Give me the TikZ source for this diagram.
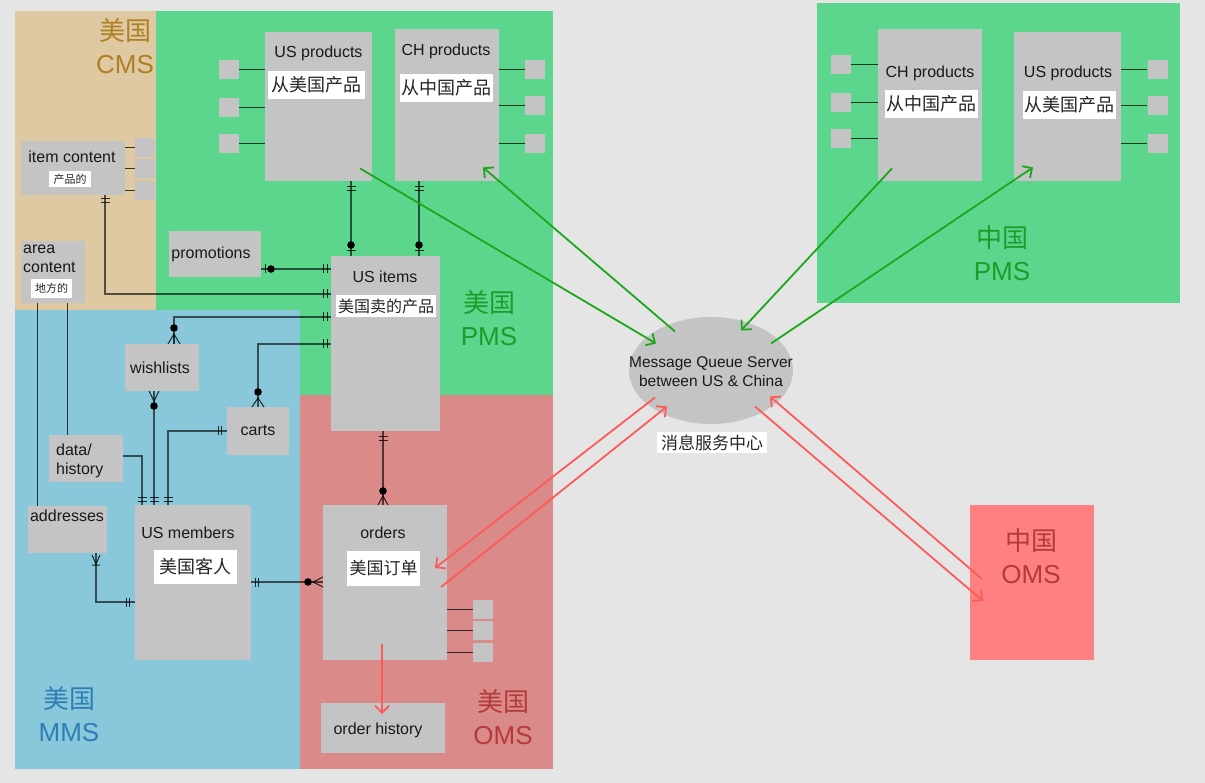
\documentclass[tikz,border=0pt]{standalone}
\usepackage{fontspec}
\setmainfont{Liberation Sans}
\newfontfamily\cjk{Noto Sans CJK SC}
\usetikzlibrary{arrows.meta,shapes.geometric}
\definecolor{bgc}{HTML}{E5E5E5}
\definecolor{cmsc}{HTML}{DEC9A3}
\definecolor{pmsc}{HTML}{5DD68D}
\definecolor{mmsc}{HTML}{89C8DA}
\definecolor{omsc}{HTML}{DB8A8A}
\definecolor{comsc}{HTML}{FF8080}
\definecolor{boxg}{HTML}{C4C4C4}
\definecolor{cmsl}{HTML}{B07F22}
\definecolor{pmsl}{HTML}{1E9C2A}
\definecolor{mmsl}{HTML}{2E7DB5}
\definecolor{omsl}{HTML}{B53A3A}
\definecolor{garc}{HTML}{1BA81B}
\definecolor{rarc}{HTML}{FF5A5A}
\newcommand\erTV[2]{\draw[erm] ({#1-4.5},#2) -- ({#1+4.5},#2);}
\newcommand\erTH[2]{\draw[erm] (#1,{#2-4.5}) -- (#1,{#2+4.5});}
\newcommand\erDot[2]{\fill[erd] (#1,#2) circle[radius=3.8pt];}
\begin{document}
\begin{tikzpicture}[x=1pt,y=-1pt,
  ent/.style={fill=boxg, draw=none, anchor=north west, inner sep=0pt},
  sq/.style={fill=boxg, draw=none, inner sep=0pt, minimum width=20pt, minimum height=19pt},
  etxt/.style={font=\fontsize{16}{19}\selectfont, inner sep=0pt, text=black!90},
  wl/.style={fill=white, inner sep=0pt, font=\cjk\fontsize{18}{20}\selectfont, text=black!85},
  regl/.style={font=\fontsize{26}{33}\selectfont, align=center, inner sep=0pt},
  erl/.style={draw=black, draw opacity=0.62, line width=1.5pt},
  erm/.style={draw=black, draw opacity=0.8, line width=1pt},
  erd/.style={fill=black},
  thinl/.style={draw=black, draw opacity=0.75, line width=1pt},
  garr/.style={draw=garc, line width=1.8pt, -{Straight Barb[length=7pt,width=14pt]}},
  rarr/.style={draw=rarc, line width=1.8pt, -{Straight Barb[length=7pt,width=14pt]}}]
\useasboundingbox (0,0) rectangle (1205,783);
\fill[bgc] (0,0) rectangle (1205,783);
% regions
\fill[cmsc] (15,11) rectangle (156,310);
\fill[pmsc] (156,11) rectangle (553,310);
\fill[pmsc] (300,310) rectangle (553,395);
\fill[mmsc] (15,310) rectangle (300,769);
\fill[omsc] (300,395) rectangle (553,769);
\fill[pmsc] (817,3) rectangle (1180,303);
% region labels
\node[regl, text=cmsl] (lcms) at (125,46) {{\cjk 美国}\\CMS};
\node[regl, text=pmsl] (lpms) at (489,318) {{\cjk 美国}\\PMS};
\node[regl, text=mmsl] (lmms) at (69,714) {{\cjk 美国}\\MMS};
\node[regl, text=omsl] (loms) at (503,717) {{\cjk 美国}\\OMS};
\node[regl, text=pmsl] (lcpms) at (1002,253) {{\cjk 中国}\\PMS};
% entity boxes
\node[ent, minimum width=107pt, minimum height=149pt] (usp) at (265,32) {};
\node[ent, minimum width=104pt, minimum height=152pt] (chp) at (395,29) {};
\node[ent, minimum width=104pt, minimum height=152pt] (cchp) at (878,29) {};
\node[ent, minimum width=107pt, minimum height=149pt] (cusp) at (1014,32) {};
\node[ent, minimum width=104pt, minimum height=54pt] (ic) at (21,141) {};
\node[ent, minimum width=64pt, minimum height=62pt] (ac) at (21,241) {};
\node[ent, minimum width=92pt, minimum height=46pt] (promo) at (169,231) {};
\node[ent, minimum width=109pt, minimum height=175pt] (usi) at (331,256) {};
\node[ent, minimum width=124pt, minimum height=155pt] (ord) at (323,505) {};
\node[ent, minimum width=116pt, minimum height=155pt] (mem) at (135,505) {};
\node[ent, minimum width=124pt, minimum height=50pt] (oh) at (321,703) {};
\node[ent, minimum width=74pt, minimum height=47pt] (wls) at (125,344) {};
\node[ent, minimum width=62pt, minimum height=48pt] (ct) at (227,407) {};
\node[ent, minimum width=74pt, minimum height=47pt] (dh) at (49,435) {};
\node[ent, minimum width=79pt, minimum height=47pt] (ad) at (28,506) {};
\node[ent, fill=comsc, minimum width=124pt, minimum height=155pt] (coms) at (970,505) {};
\node[regl, text=omsl] (lcoms) at (1031,556) {{\cjk 中国}\\OMS};
\node[fill=boxg, ellipse, inner sep=0pt, minimum width=164pt, minimum height=107pt] (mq) at (711,370.5) {};
% entity texts
\node[etxt] (usp-t) at (318.5,53) {US products};
\node[etxt] (chp-t) at (446,51) {CH products};
\node[etxt] (cchp-t) at (930,73) {CH products};
\node[etxt] (cusp-t) at (1068,73) {US products};
\node[etxt] (ic-t) at (72,157) {item content};
\node[etxt, align=left, anchor=west] (ac-t) at (23,259) {area\\content};
\node[etxt] (promo-t) at (211,254) {promotions};
\node[etxt] (usi-t) at (385,277) {US items};
\node[etxt] (ord-t) at (383,533) {orders};
\node[etxt] (mem-t) at (188,533) {US members};
\node[etxt] (oh-t) at (378,730) {order history};
\node[etxt] (wls-t) at (160,368) {wishlists};
\node[etxt] (ct-t) at (258,430) {carts};
\node[etxt, align=left, anchor=west] (dh-t) at (56,461) {data/\\history};
\node[etxt] (ad-t) at (67,516) {addresses};
\node[etxt, align=center, font=\fontsize{15.5}{19}\selectfont] (mq-t) at (711,371.5) {Message Queue Server\\between US \& China};
% white labels
\node[wl, minimum width=97pt, minimum height=28pt] (usp-l) at (316.5,85) {从美国产品};
\node[wl, minimum width=93pt, minimum height=28pt] (chp-l) at (446.5,88) {从中国产品};
\node[wl, minimum width=93pt, minimum height=28pt] (cchp-l) at (931.5,104) {从中国产品};
\node[wl, minimum width=93pt, minimum height=28pt] (cusp-l) at (1069.5,105) {从美国产品};
\node[wl, font=\cjk\fontsize{11}{12}\selectfont, minimum width=42pt, minimum height=16pt] (ic-l) at (70,179) {产品的};
\node[wl, font=\cjk\fontsize{11}{12}\selectfont, minimum width=41pt, minimum height=19pt] (ac-l) at (51.5,288.5) {地方的};
\node[wl, font=\cjk\fontsize{16}{18}\selectfont, minimum width=100pt, minimum height=22pt] (usi-l) at (386,306) {美国卖的产品};
\node[wl, minimum width=83pt, minimum height=34pt] (mem-l) at (195.5,567) {美国客人};
\node[wl, font=\cjk\fontsize{17}{19}\selectfont, minimum width=73pt, minimum height=35pt] (ord-l) at (383.5,568.5) {美国订单};
\node[wl, font=\cjk\fontsize{17}{19}\selectfont, minimum width=110pt, minimum height=21pt] (mq-l) at (712,442.5) {消息服务中心};
% small attribute squares
\foreach \i/\y in {1/70,2/108,3/143.5} {
  \node[sq] (ua\i) at (228.5,\y) {};
  \draw[thinl] (ua\i.east) -- (ua\i.east -| usp.west);
}
\foreach \i/\y in {1/70,2/105.5,3/143.5} {
  \node[sq] (ca\i) at (535,\y) {};
  \draw[thinl] (ca\i.west) -- (ca\i.west -| chp.east);
}
\foreach \i/\y in {1/147.5,2/168.5,3/190.5} {
  \node[sq] (ia\i) at (145,\y) {};
  \draw[thinl] (ia\i.west) -- (ia\i.west -| ic.east);
}
\foreach \i/\y in {1/609.5,2/630.5,3/652.5} {
  \node[sq] (oa\i) at (483,\y) {};
  \draw[thinl] (oa\i.west) -- (oa\i.west -| ord.east);
}
\foreach \i/\y in {1/64.5,2/102.5,3/138.5} {
  \node[sq] (xa\i) at (841,\y) {};
  \draw[thinl] (xa\i.east) -- (xa\i.east -| cchp.west);
}
\foreach \i/\y in {1/69.5,2/105.5,3/143.5} {
  \node[sq] (ya\i) at (1157.5,\y) {};
  \draw[thinl] (ya\i.west) -- (ya\i.west -| cusp.east);
}
% helper coordinates for ER connectors
\coordinate (c351) at (351,0); \coordinate (c419) at (419,0);
\coordinate (c105) at (105,0); \coordinate (c174) at (174,0);
\coordinate (c258) at (258,0); \coordinate (c383) at (383,0);
\coordinate (c154) at (154,0); \coordinate (c142) at (142,0);
\coordinate (c168) at (168,0); \coordinate (c37) at (37,0);
\coordinate (c67) at (67,0); \coordinate (c96) at (96,0);
\coordinate (r269) at (0,269); \coordinate (r294) at (0,294);
\coordinate (r317) at (0,317); \coordinate (r344) at (0,344);
\coordinate (r456) at (0,456); \coordinate (r431) at (0,431);
\coordinate (r602) at (0,602); \coordinate (r582) at (0,582);
% US products -> US items
\draw[erl] (usp.south -| c351) -- (usi.north -| c351);
\erTV{351}{187}\erTV{351}{191}\erDot{351}{245}\erTV{351}{251}
% CH products -> US items
\draw[erl] (chp.south -| c419) -- (usi.north -| c419);
\erTV{419}{187}\erTV{419}{191}\erDot{419}{245}\erTV{419}{251}
% promotions -> US items
\draw[erl] (promo.east |- r269) -- (usi.west |- r269);
\erTH{265}{269}\erDot{271}{269}\erTH{323}{269}\erTH{327}{269}
% item content -> US items
\draw[erl] (ic.south -| c105) |- (usi.west |- r294);
\erTV{105}{199}\erTV{105}{203}\erTH{323}{294}\erTH{327}{294}
% wishlists -> US items
\draw[erl] (wls.north -| c174) |- (usi.west |- r317);
\erTH{323}{317}\erTH{327}{317}\erDot{174}{328}
\draw[erm] (168,344) -- (174,334) -- (180,344) (174,334) -- (174,344);
% carts -> US items
\draw[erl] (ct.north -| c258) |- (usi.west |- r344);
\erTH{323}{344}\erTH{327}{344}\erDot{258}{392}
\draw[erm] (252,407) -- (258,398) -- (264,407);
% US items -> orders
\draw[erl] (usi.south -| c383) -- (ord.north -| c383);
\erTV{383}{437}\erTV{383}{441}\erDot{383}{491}
\draw[erm] (378,505) -- (383,496) -- (388,505);
% wishlists -> US members
\draw[erl] (wls.south -| c154) -- (mem.north -| c154);
\draw[erm] (149,391) -- (154,401) -- (159,391);
\erDot{154}{406}\erTV{154}{497}\erTV{154}{501}
% data/history -> US members
\draw[erl] (dh.east |- r456) -| (mem.north -| c142);
\erTV{142}{497}\erTV{142}{501}
% carts -> US members
\draw[erl] (ct.west |- r431) -| (mem.north -| c168);
\erTH{218}{431}\erTH{221}{431}\erTV{168}{497}\erTV{168}{501}
% area content lines
\draw[thinl] (ac.south -| c37) -- (ad.north -| c37);
\draw[thinl] (ac.south -| c67) -- (dh.north -| c67);
% addresses -> US members
\draw[erl] (ad.south -| c96) |- (mem.west |- r602);
\draw[erm] (92,555) -- (96,564) -- (100,555) (92,565) -- (100,565);
\erTH{126}{602}\erTH{129}{602}
% US members -> orders
\draw[erl] (mem.east |- r582) -- (ord.west |- r582);
\erTH{255}{582}\erTH{258}{582}\erDot{308}{582}
\draw[erm] (323,577) -- (313,582) -- (323,587);
% green arrows
\draw[garr] ([xshift=95pt,yshift=13pt]usp.south west) -- ([xshift=-55pt,yshift=27pt]mq.center);
\draw[garr] ([xshift=-36pt,yshift=39pt]mq.center) -- ([xshift=88pt,yshift=14pt]chp.south west);
\draw[garr] ([xshift=14pt,yshift=13pt]cchp.south west) -- ([xshift=30pt,yshift=40pt]mq.center);
\draw[garr] ([xshift=60pt,yshift=27pt]mq.center) -- ([xshift=19pt,yshift=14pt]cusp.south west);
% red arrows
\draw[rarr] ([xshift=-56pt,yshift=-27pt]mq.center) -- ([xshift=112pt,yshift=-63pt]ord.north west);
\draw[rarr] ([xshift=118pt,yshift=-82pt]ord.north west) -- ([xshift=-44pt,yshift=-36pt]mq.center);
\draw[rarr] ([xshift=12pt,yshift=-74pt]coms.north west) -- ([xshift=59pt,yshift=-26pt]mq.center);
\draw[rarr] ([xshift=44pt,yshift=-36pt]mq.center) -- ([xshift=13pt,yshift=-96pt]coms.north west);
\draw[rarr] ([xshift=59pt,yshift=-139pt]ord.north west) -- ([xshift=61pt,yshift=-11pt]oh.north west);
\end{tikzpicture}
\end{document}
